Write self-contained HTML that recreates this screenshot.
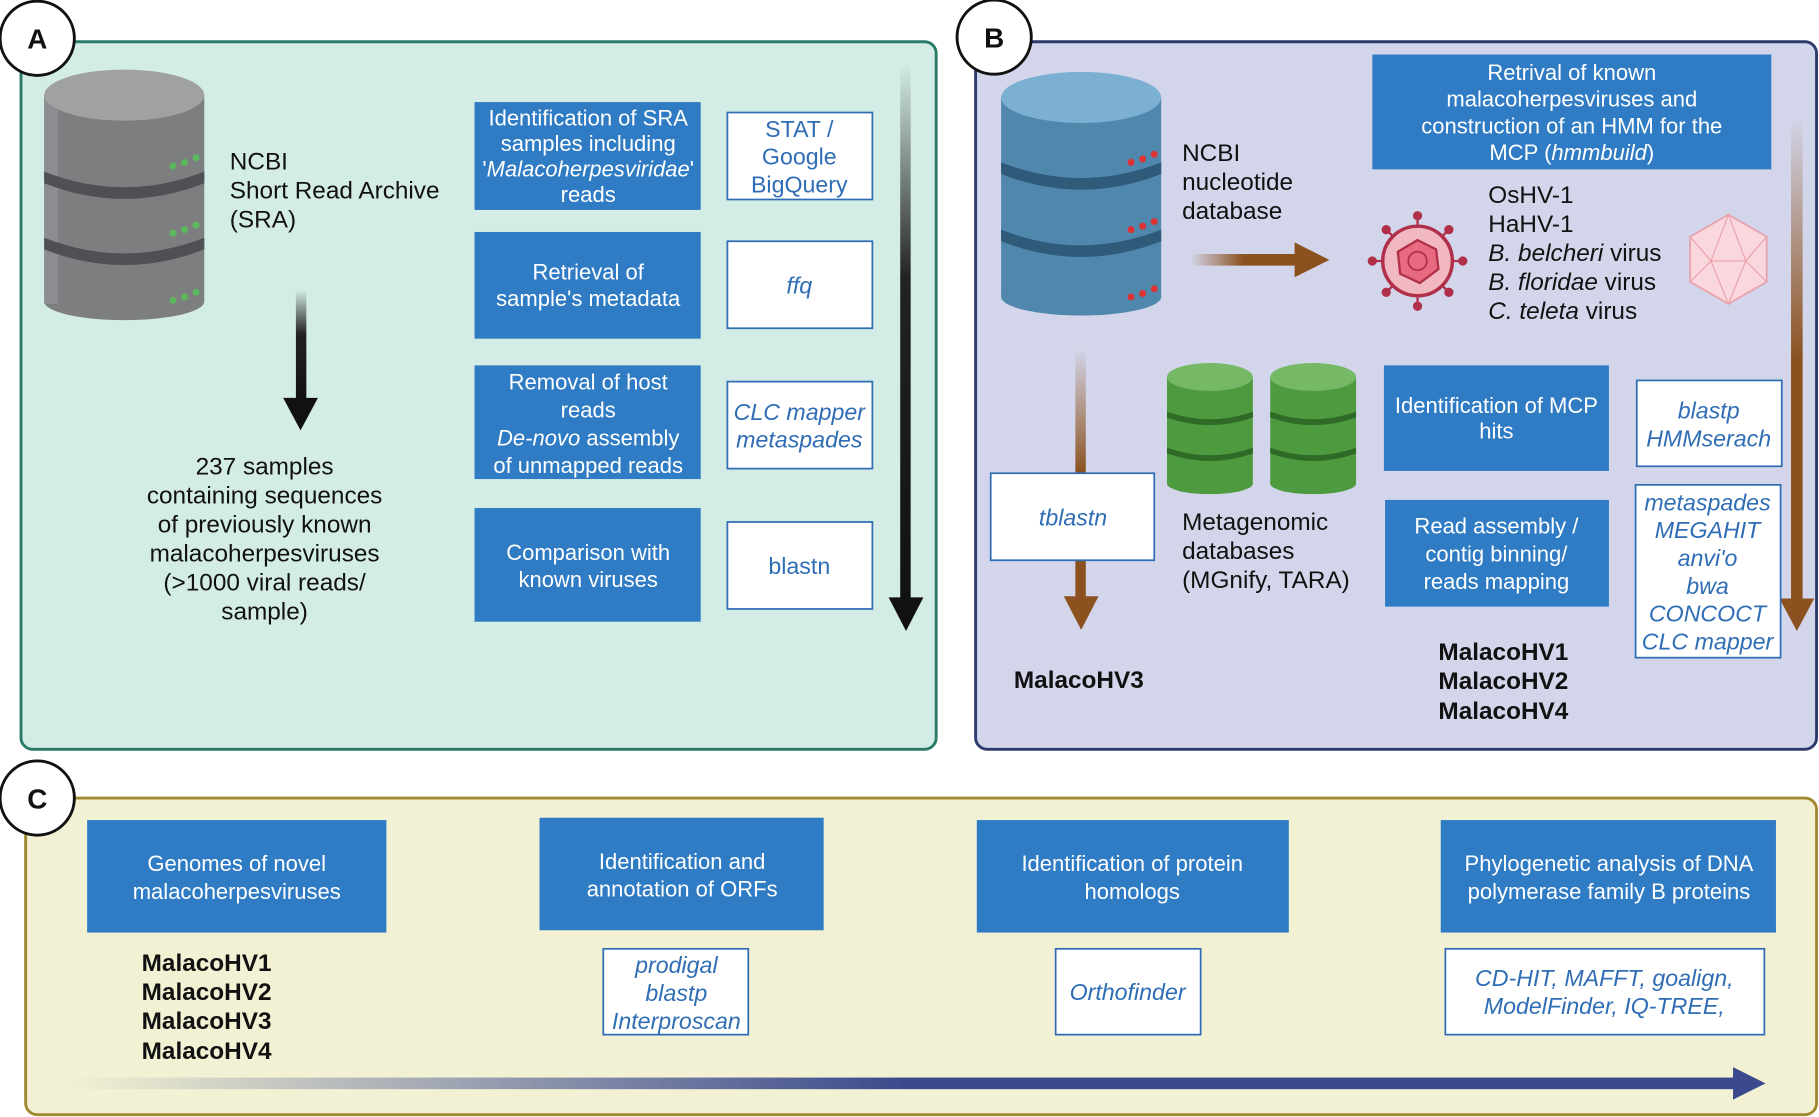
<!DOCTYPE html>
<html><head><meta charset="utf-8"><style>
html,body{margin:0;padding:0;background:#fff;}
svg{display:block;font-family:"Liberation Sans",sans-serif;}
.w{fill:#fff;font-size:19px;text-anchor:middle;}
.b{fill:#2f6db5;font-size:20px;font-style:italic;text-anchor:middle;}
.n{font-style:normal;}
.k{fill:#111;font-size:21px;}
.kb{fill:#111;font-size:21px;font-weight:bold;}
</style></head><body>
<svg width="1819" height="1117" viewBox="0 0 1568 963" xmlns="http://www.w3.org/2000/svg">
<defs>
<linearGradient id="gA" x1="0" y1="0" x2="0" y2="1"><stop offset="0" stop-color="#222" stop-opacity="0"/><stop offset="0.4" stop-color="#222"/><stop offset="1" stop-color="#111"/></linearGradient>
<linearGradient id="gBr" x1="0" y1="0" x2="1" y2="0"><stop offset="0" stop-color="#8b5220" stop-opacity="0"/><stop offset="0.5" stop-color="#8b5220"/><stop offset="1" stop-color="#8b5220"/></linearGradient>
<linearGradient id="gBrV" x1="0" y1="0" x2="0" y2="1"><stop offset="0" stop-color="#8b5220" stop-opacity="0"/><stop offset="0.5" stop-color="#8b5220"/><stop offset="1" stop-color="#8b5220"/></linearGradient>
<linearGradient id="gC" x1="0" y1="0" x2="1" y2="0"><stop offset="0" stop-color="#3b4a8c" stop-opacity="0"/><stop offset="0.5" stop-color="#3b4a8c"/><stop offset="1" stop-color="#3b4a8c"/></linearGradient>
</defs>

<rect x="18" y="36" width="789" height="610" rx="10" fill="#d4ece6" stroke="#2a7a6a" stroke-width="2.5"/>
<rect x="841" y="36" width="725" height="610" rx="10" fill="#d3d6ea" stroke="#2c3a6c" stroke-width="2.5"/>
<rect x="22" y="688" width="1544" height="273" rx="10" fill="#f3f1d3" stroke="#a08a30" stroke-width="2.5"/>

<g>
<rect x="38" y="82" width="138" height="178" fill="#7d7e80"/>
<ellipse cx="107" cy="260" rx="69" ry="16" fill="#7d7e80"/>
<rect x="38" y="82" width="12" height="180" fill="#8c8d90"/>
<path d="M38 148 Q107 175 176 148 L176 158 Q107 185 38 158Z" fill="#4f5053"/>
<path d="M38 205 Q107 232 176 205 L176 215 Q107 242 38 215Z" fill="#4f5053"/>
<ellipse cx="107" cy="82" rx="69" ry="22" fill="#a0a1a3"/>
<g fill="#5cb85c"><circle cx="149" cy="143" r="3"/><circle cx="159" cy="140" r="3"/><circle cx="169" cy="136" r="3"/><circle cx="149" cy="201" r="3"/><circle cx="159" cy="198" r="3"/><circle cx="169" cy="194" r="3"/><circle cx="149" cy="259" r="3"/><circle cx="159" cy="256" r="3"/><circle cx="169" cy="252" r="3"/></g>
</g>
<text class="k" x="198" y="146">NCBI</text>
<text class="k" x="198" y="171">Short Read Archive</text>
<text class="k" x="198" y="196">(SRA)</text>
<rect x="255" y="250" width="9" height="95" fill="url(#gA)"/>
<polygon points="244,343 274,343 259,371" fill="#111"/>
<g class="k" text-anchor="middle" style="font-size:21px"><text x="228" y="409">237 samples</text><text x="228" y="434">containing sequences</text><text x="228" y="459">of previously known</text><text x="228" y="484">malacoherpesviruses</text><text x="228" y="509">(&gt;1000 viral reads/</text><text x="228" y="534">sample)</text></g>

<rect x="409" y="88" width="195" height="93" fill="#2f7cc4"/>
<text class="w" x="507" y="108">Identification of SRA</text><text class="w" x="507" y="130">samples including</text><text class="w" x="507" y="152">'<tspan style="font-style:italic">Malacoherpesviridae</tspan>'</text><text class="w" x="507" y="174">reads</text>
<rect x="409" y="200" width="195" height="92" fill="#2f7cc4"/>
<text class="w" x="507" y="241">Retrieval of</text><text class="w" x="507" y="264">sample's metadata</text>
<rect x="409" y="315" width="195" height="98" fill="#2f7cc4"/>
<text class="w" x="507" y="336">Removal of  host</text><text class="w" x="507" y="360">reads</text><text class="w" x="507" y="384"><tspan style="font-style:italic">De-novo</tspan> assembly</text><text class="w" x="507" y="408">of unmapped reads</text>
<rect x="409" y="438" width="195" height="98" fill="#2f7cc4"/>
<text class="w" x="507" y="483">Comparison with</text><text class="w" x="507" y="506">known viruses</text>

<g fill="#fff" stroke="#2f6db5" stroke-width="1.5">
<rect x="627" y="97" width="125" height="75"/><rect x="627" y="208" width="125" height="75"/><rect x="627" y="329" width="125" height="75"/><rect x="627" y="450" width="125" height="75"/></g>
<text class="b n" x="689" y="118">STAT /</text><text class="b n" x="689" y="142">Google</text><text class="b n" x="689" y="166">BigQuery</text>
<text class="b" x="689" y="253">ffq</text>
<text class="b" x="689" y="362">CLC mapper</text><text class="b" x="689" y="386">metaspades</text>
<text class="b n" x="689" y="495">blastn</text>
<rect x="776" y="55" width="9" height="462" fill="url(#gA)"/>
<polygon points="766,515 796,515 781,544" fill="#111"/>

<g>
<rect x="863" y="84" width="138" height="172" fill="#4f87ad"/>
<ellipse cx="932" cy="256" rx="69" ry="16" fill="#4f87ad"/>
<path d="M863 140 Q932 167 1001 140 L1001 150 Q932 177 863 150Z" fill="#2f5a7a"/>
<path d="M863 198 Q932 225 1001 198 L1001 208 Q932 235 863 208Z" fill="#2f5a7a"/>
<ellipse cx="932" cy="84" rx="69" ry="22" fill="#7bb0d2"/>
<g fill="#d33"><circle cx="975" cy="140" r="3"/><circle cx="985" cy="137" r="3"/><circle cx="995" cy="133" r="3"/><circle cx="975" cy="198" r="3"/><circle cx="985" cy="195" r="3"/><circle cx="995" cy="191" r="3"/><circle cx="975" cy="256" r="3"/><circle cx="985" cy="253" r="3"/><circle cx="995" cy="249" r="3"/></g>
</g>
<text class="k" x="1019" y="139">NCBI</text><text class="k" x="1019" y="164">nucleotide</text><text class="k" x="1019" y="189">database</text>
<rect x="1026" y="219" width="92" height="10" fill="url(#gBr)"/>
<polygon points="1116,209 1146,224 1116,239" fill="#8b5220"/>
<rect x="1183" y="47" width="344" height="99" fill="#2f7cc4"/>
<text class="w" x="1355" y="69">Retrival of known</text><text class="w" x="1355" y="92">malacoherpesviruses and</text><text class="w" x="1355" y="115">construction of an HMM for the</text><text class="w" x="1355" y="138">MCP (<tspan style="font-style:italic">hmmbuild</tspan>)</text>
<g stroke="#b0304a" stroke-width="2" fill="#b0304a">
<line x1="1222" y1="185" x2="1222" y2="265"/><line x1="1182" y1="225" x2="1262" y2="225"/><line x1="1194" y1="197" x2="1250" y2="253"/><line x1="1250" y1="197" x2="1194" y2="253"/>
<circle cx="1222" cy="186" r="3"/><circle cx="1222" cy="264" r="3"/><circle cx="1183" cy="225" r="3"/><circle cx="1261" cy="225" r="3"/><circle cx="1195" cy="198" r="3"/><circle cx="1249" cy="252" r="3"/><circle cx="1249" cy="198" r="3"/><circle cx="1195" cy="252" r="3"/>
</g>
<circle cx="1222" cy="225" r="30" fill="#f2b8c2" stroke="#b0304a" stroke-width="3"/>
<polygon points="1222,207 1238,215 1240,232 1224,244 1207,236 1205,217" fill="#e86a80" stroke="#b0304a" stroke-width="2"/>
<circle cx="1222" cy="225" r="8" fill="none" stroke="#b0304a" stroke-width="1.5"/>
<polygon points="1490,185 1523,204 1523,243 1490,262 1457,243 1457,204" fill="#f9d7dc" stroke="#e9a1ad" stroke-width="1.5"/>
<g stroke="#e9a1ad" stroke-width="1" fill="none"><path d="M1490 185 L1475 225 L1505 225Z M1457 204 L1475 225 L1457 243 M1523 204 L1505 225 L1523 243 M1475 225 L1490 262 L1505 225"/></g>
<text class="k" x="1283" y="175">OsHV-1</text><text class="k" x="1283" y="200">HaHV-1</text>
<text class="k" x="1283" y="225"><tspan style="font-style:italic">B. belcheri</tspan> virus</text>
<text class="k" x="1283" y="250"><tspan style="font-style:italic">B. floridae</tspan> virus</text>
<text class="k" x="1283" y="275"><tspan style="font-style:italic">C. teleta</tspan> virus</text>
<rect x="1544" y="100" width="10" height="420" fill="url(#gBrV)"/>
<polygon points="1534,516 1564,516 1549,544" fill="#8b5220"/>
<g>
<rect x="1006" y="325" width="74" height="92" fill="#4e9a3f"/><ellipse cx="1043" cy="417" rx="37" ry="9" fill="#4e9a3f"/>
<path d="M1006 355 Q1043 368 1080 355 L1080 360 Q1043 373 1006 360Z" fill="#2f6a27"/><path d="M1006 386 Q1043 399 1080 386 L1080 391 Q1043 404 1006 391Z" fill="#2f6a27"/>
<ellipse cx="1043" cy="325" rx="37" ry="12" fill="#75b865"/>
<rect x="1095" y="325" width="74" height="92" fill="#4e9a3f"/><ellipse cx="1132" cy="417" rx="37" ry="9" fill="#4e9a3f"/>
<path d="M1095 355 Q1132 368 1169 355 L1169 360 Q1132 373 1095 360Z" fill="#2f6a27"/><path d="M1095 386 Q1132 399 1169 386 L1169 391 Q1132 404 1095 391Z" fill="#2f6a27"/>
<ellipse cx="1132" cy="325" rx="37" ry="12" fill="#75b865"/>
</g>
<text class="k" x="1019" y="457">Metagenomic</text><text class="k" x="1019" y="482">databases</text><text class="k" x="1019" y="507">(MGnify, TARA)</text>
<rect x="927" y="300" width="9" height="215" fill="url(#gBrV)"/>
<polygon points="917,514 947,514 932,543" fill="#8b5220"/>
<rect x="854" y="408" width="141" height="75" fill="#fff" stroke="#2f6db5" stroke-width="1.5"/>
<text class="b" x="925" y="453">tblastn</text>
<text class="kb" x="874" y="593">MalacoHV3</text>
<rect x="1193" y="315" width="194" height="91" fill="#2f7cc4"/>
<text class="w" x="1290" y="356">Identification of MCP</text><text class="w" x="1290" y="378">hits</text>
<rect x="1194" y="431" width="193" height="92" fill="#2f7cc4"/>
<text class="w" x="1290" y="460">Read assembly /</text><text class="w" x="1290" y="484">contig binning/</text><text class="w" x="1290" y="508">reads mapping</text>
<g fill="#fff" stroke="#2f6db5" stroke-width="1.5"><rect x="1411" y="328" width="125" height="74"/><rect x="1410" y="418" width="125" height="149"/></g>
<text class="b" x="1473" y="361">blastp</text><text class="b" x="1473" y="385">HMMserach</text>
<text class="b" x="1472" y="440">metaspades</text><text class="b" x="1472" y="464">MEGAHIT</text><text class="b" x="1472" y="488">anvi'o</text><text class="b" x="1472" y="512">bwa</text><text class="b" x="1472" y="536">CONCOCT</text><text class="b" x="1472" y="560">CLC mapper</text>
<text class="kb" x="1240" y="569">MalacoHV1</text><text class="kb" x="1240" y="594">MalacoHV2</text><text class="kb" x="1240" y="620">MalacoHV4</text>

<rect x="75" y="707" width="258" height="97" fill="#2f7cc4"/>
<text class="w" x="204" y="751">Genomes of novel</text><text class="w" x="204" y="775">malacoherpesviruses</text>
<rect x="465" y="705" width="245" height="97" fill="#2f7cc4"/>
<text class="w" x="588" y="749">Identification and</text><text class="w" x="588" y="773">annotation of ORFs</text>
<rect x="842" y="707" width="269" height="97" fill="#2f7cc4"/>
<text class="w" x="976" y="751">Identification of protein</text><text class="w" x="976" y="775">homologs</text>
<rect x="1242" y="707" width="289" height="97" fill="#2f7cc4"/>
<text class="w" x="1387" y="751">Phylogenetic analysis of  DNA</text><text class="w" x="1387" y="775">polymerase family B proteins</text>
<text class="kb" x="122" y="837">MalacoHV1</text><text class="kb" x="122" y="862">MalacoHV2</text><text class="kb" x="122" y="887">MalacoHV3</text><text class="kb" x="122" y="913">MalacoHV4</text>
<g fill="#fff" stroke="#2f6db5" stroke-width="1.5"><rect x="520" y="818" width="125" height="74"/><rect x="910" y="818" width="125" height="74"/><rect x="1246" y="818" width="275" height="74"/></g>
<text class="b" x="583" y="839">prodigal</text><text class="b" x="583" y="863">blastp</text><text class="b" x="583" y="887">Interproscan</text>
<text class="b" x="972" y="862">Orthofinder</text>
<text class="b" x="1383" y="850">CD-HIT, MAFFT, goalign,</text><text class="b" x="1383" y="874">ModelFinder, IQ-TREE,</text>
<rect x="60" y="929" width="1440" height="10" fill="url(#gC)"/>
<polygon points="1494,920 1522,934 1494,948" fill="#3b4a8c"/>

<g fill="#fff" stroke="#111" stroke-width="2.5"><circle cx="32" cy="33" r="32"/><circle cx="857" cy="32" r="32"/><circle cx="32" cy="688" r="32"/></g>
<g font-size="24" font-weight="bold" fill="#111" text-anchor="middle"><text x="32" y="42">A</text><text x="857" y="41">B</text><text x="32" y="697">C</text></g>
</svg>
</body></html>
